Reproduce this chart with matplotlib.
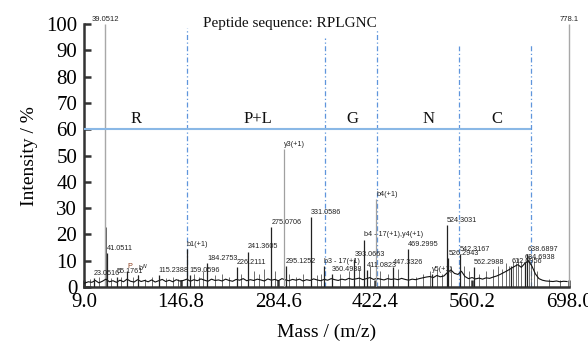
import numpy as np
import matplotlib.pyplot as plt

# Baseline trace (noise), sampled every 5 m/z from 10
base_start = 10
base_step = 5
base_int = [1.5, 2, 1.8, 2.5, 1.6, 2.2, 3, 2,
            2.4, 1.8, 2.6, 2, 3, 2.2, 1.9, 2.8, 2.1, 2.5,
            2, 2.7, 1.9, 2.4, 2.9, 2.1, 2.6, 2, 2.8, 2.3,
            2.5, 3, 2.2, 2.8, 2.4, 3.1, 2.6, 2.2, 3, 2.5,
            2.7, 2.3, 3, 2.5, 2.2, 2.9, 2.6, 3.2, 2.4, 2.8,
            2.5, 3, 2.7, 2.3, 3.1, 2.6, 2.9, 2.4, 3.2, 2.7,
            2.4, 2.9, 2.6, 3, 2.3, 2.8, 2.5, 3.1, 2.7, 2.4,
            2.9, 2.6, 3.2, 2.8, 2.5, 3, 2.7, 3.3, 2.9, 3.1,
            3.4, 2.8, 3.2, 3.6, 2.9, 3.3, 3, 2.7, 3.2, 2.9,
            3.1, 2.8, 3.3, 2.9, 2.6, 3, 2.8, 3.2, 3.5, 3.8,
            4, 3.6, 4.4, 3.9, 4.2, 5.5, 6.5, 5.2, 4.8, 6,
            4, 3.2, 3.6, 3.1, 3.4, 3, 3.5, 3.3, 3.8, 4.2,
            4.8, 5.5, 6.2, 7, 7.8, 8.5, 7.5, 9, 10, 8,
            5, 3.2, 2.6, 2.3, 2.2, 2.1, 2.3, 2, 2.2, 2.1]
base_mz = base_start + base_step * np.arange(len(base_int))

# Small unlabelled spikes
minor_mz = [18, 30, 39.5, 47, 62, 78, 85, 95, 105, 125, 135, 142, 165, 172, 178,
            195, 205, 215, 232, 250, 258, 265, 280, 292.5, 300, 310, 320, 340, 345,
            372, 385, 400, 415, 430, 440, 455, 480, 490, 500, 510, 518, 530, 548,
            555, 570, 580, 590, 597, 603, 608, 612, 618, 622, 626, 630, 641, 644,
            648, 652, 670, 685]
minor_int = [3, 4, 23, 3.5, 4, 4, 4.5, 3, 4, 3.5, 4, 3, 5, 4, 6,
             4.5, 5, 4, 5, 6, 5, 7, 6, 38.8, 5, 4, 5, 4.5, 5,
             5, 6, 7, 8, 6, 5, 7, 4, 5, 6, 7, 5, 8, 8,
             6, 5, 6, 7, 8, 7, 9, 8, 10, 9, 11, 10, 12, 9,
             10, 6, 3, 2.5]

# Labelled peaks
peak_mz = [23.0516, 41.0511, 55.1761, 70.4, 86, 115.2388, 155.0, 159.0596, 184.2753,
           226.2111, 241.3605, 275.0706, 293.1, 295.1252, 331.0586, 350.0,
           360.4938, 393.0663, 406.8, 411.0823, 423.8, 447.3326, 469.2995, 503.4,
           524.3031, 526.2943, 542.3167, 562.2988, 616.0, 634.6938, 638.6897]
peak_int = [3.5, 13, 4, 6, 4.5, 4.5, 14.5, 4.5, 9,
            7.5, 13.5, 22.9, 52.5, 8, 26.5, 8,
            5, 10.5, 18, 6.5, 33.5, 7.5, 14.5, 5,
            23.5, 11, 12.5, 7.5, 8, 9.5, 12.5]
peak_lab = ['23.0516', '41.0511', '55.1761', 'P', r'b$^{N}$', '115.2388', 'b1(+1)', '159.0596',
            '184.2753', '226.2111', '241.3605', '275.0706', 'y3(+1)', '295.1252',
            '331.0586', 'b3 - 17(+1)', '360.4938', '393.0663', 'b4 - 17(+1),y4(+1)',
            '411.0823', 'b4(+1)', '447.3326', '469.2995', 'y5(+1)', '524.3031',
            '526.2943', '542.3167', '562.2988', '612.6956', '634.6938', '638.6897']
gray_peaks = ['y3(+1)', 'b4(+1)']

# Full-height reference peaks labelled on top
top_mz = [39.0512, 698.0]
top_lab = ['39.0512', '778.1']

# Residue boundaries and labels
bound_mz = [155.3, 351.4, 425.2, 541.7, 644.0]
bound_top = [98.5, 94.7, 97.7, 91.6, 92.4]
res_mz = [82.9, 256.2, 389.7, 497.7, 595.7]
res_lab = ['R', 'P+L', 'G', 'N', 'C']

xticks = [9.0, 146.8, 284.6, 422.4, 560.2, 698.0]

serif = 'Liberation Serif'
sans = 'Liberation Sans'

fig = plt.figure(figsize=(5.88, 3.45), dpi=100)
ax = fig.add_axes([0.143, 0.168, 0.825, 0.762])

# top peaks (gray)
ax.vlines(top_mz, 0, 100, color='#a8a8a8', lw=1.0, clip_on=False, zorder=2)
for m, t in zip(top_mz, top_lab):
    ax.text(m, 100.6, t, ha='center', va='bottom', fontsize=5.5, family=sans, color='#222222')

# minor spikes + baseline
ax.vlines(minor_mz, 0, minor_int, color='#555555', lw=0.6, zorder=2)
ax.plot(base_mz, base_int, color='#111111', lw=0.8, zorder=3)

# labelled peaks
for m, h, t in zip(peak_mz, peak_int, peak_lab):
    c = '#a0a0a0' if t in gray_peaks else '#222222'
    ax.vlines(m, 0, h, color=c, lw=0.9, zorder=3)
    col = '#8a3b1a' if t == 'P' else '#222222'
    ax.text(m, h + 0.5, t, ha='left', va='bottom', fontsize=5.2, family=sans, color=col, zorder=5)

# residue boundaries
ax.hlines(60, 9.0, bound_mz[-1], color='#8ab8e6', lw=1.5, zorder=4)
for m, top in zip(bound_mz, bound_top):
    ax.vlines(m, 0, top, color='#5f95dc', lw=0.9, linestyles=(0, (4, 2, 1, 2)), zorder=1)
for m, t in zip(res_mz, res_lab):
    ax.text(m, 61, t, ha='center', va='bottom', fontsize=12, family=serif, color='#111111')

ax.text(301.6, 100.3, 'Peptide sequence: RPLGNC', ha='center', va='center',
        fontsize=11, family=serif, color='#111111')

ax.set_xlim(9.0, 698.0)
ax.set_ylim(0, 100)
ax.set_xticks(xticks)
ax.set_xticklabels(['%.1f' % v for v in xticks])
ax.set_yticks(np.arange(0, 101, 10))
for s in ['top', 'right']:
    ax.spines[s].set_visible(False)
for s in ['left', 'bottom']:
    ax.spines[s].set_linewidth(1.8)
    ax.spines[s].set_color('#333333')
ax.tick_params(direction='in', length=5, width=1.8, color='#333333', labelsize=15)
ax.tick_params(axis='x', pad=4)
ax.tick_params(axis='y', pad=5)
for lab in ax.get_xticklabels() + ax.get_yticklabels():
    lab.set_family(serif)
ax.set_xlabel('Mass / (m/z)', fontsize=14, family=serif, labelpad=9)
ax.set_ylabel('Intensity / %', fontsize=14, family=serif, labelpad=6)

fig.savefig('out.png', dpi=100)
